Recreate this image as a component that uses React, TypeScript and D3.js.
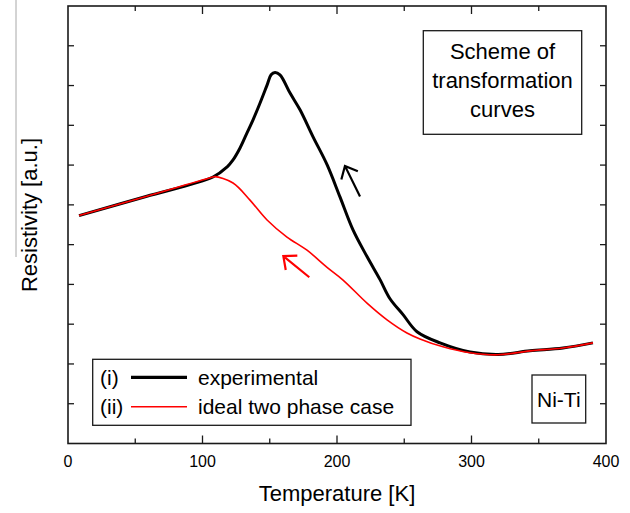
import React, { useEffect, useRef } from "react";
import * as d3 from "d3";

// experimental curve (i)
const expTemp = [8.2, 58.0, 107.8, 118.2, 122.7, 127.9, 133.1, 137.5, 142.8, 148.0, 151.0, 153.9, 157.6, 165.1, 172.5, 182.2, 192.6, 202.2, 211.9, 222.3, 232.0, 239.4, 249.1, 259.5, 276.6, 298.9, 319.7, 343.5, 368.0, 390.3];
const expRes = [5.73, 6.21, 6.7, 6.95, 7.13, 7.43, 7.81, 8.13, 8.56, 9.01, 9.27, 9.33, 9.27, 8.81, 8.39, 7.71, 7.01, 6.2, 5.37, 4.7, 4.12, 3.64, 3.24, 2.81, 2.53, 2.3, 2.24, 2.33, 2.4, 2.53];

// ideal two phase case (ii)
const idealTemp = [8.2, 58.0, 107.8, 109.3, 122.7, 135.3, 148.0, 162.8, 177.7, 192.6, 204.5, 222.3, 237.2, 252.0, 261.7, 278.8, 298.9, 319.7, 343.5, 368.0, 390.3];
const idealRes = [5.73, 6.21, 6.7, 6.71, 6.55, 6.12, 5.62, 5.19, 4.86, 4.43, 4.11, 3.53, 3.11, 2.78, 2.63, 2.43, 2.28, 2.23, 2.33, 2.4, 2.53];

const xMajorTicks = [0, 100, 200, 300, 400];
const xMinorTicks = [50, 150, 250, 350];
const yTicks = d3.range(0, 12);

const legendLabels = ["(i)", "(ii)"];
const legendNames = ["experimental", "ideal two phase case"];
const schemeLines = ["Scheme of", "transformation", "curves"];

// arrows: [tailT, tailR, tipT, tipR]
const blackArrow = [217.1, 6.21, 205.9, 6.98];
const redArrow = [179.4, 4.18, 160.1, 4.71];

const FONT = "'Liberation Sans', Arial, sans-serif";

const App = () => {
  const svgRef = useRef(null);
  const width = 630;
  const height = 513;
  const margin = { top: 6, right: 24, bottom: 69.5, left: 68 };

  useEffect(() => {
    const svgEl = d3.select(svgRef.current);
    svgEl.selectAll("*").remove();

    const innerW = width - margin.left - margin.right;
    const innerH = height - margin.top - margin.bottom;

    const x = d3.scaleLinear().domain([0, 400]).range([margin.left, margin.left + innerW]);
    const y = d3.scaleLinear().domain([0, 11]).range([margin.top + innerH, margin.top]);

    // stray grey rule at the far left of the original scan
    svgEl.append("line")
      .attr("x1", 16).attr("x2", 16).attr("y1", 0).attr("y2", 257)
      .attr("stroke", "#a8a8a8").attr("stroke-width", 1);

    // frame
    svgEl.append("rect")
      .attr("x", margin.left).attr("y", margin.top)
      .attr("width", innerW).attr("height", innerH)
      .attr("fill", "none").attr("stroke", "#1a1a1a").attr("stroke-width", 1.6);

    const ticks = svgEl.append("g").attr("stroke", "#1a1a1a").attr("stroke-width", 1.3);
    const yBottom = margin.top + innerH;

    // x ticks, inward on bottom and top
    xMajorTicks.concat(xMinorTicks).forEach((t) => {
      const len = xMajorTicks.includes(t) ? 8 : 5;
      if (t === 0 || t === 400) return;
      ticks.append("line").attr("x1", x(t)).attr("x2", x(t)).attr("y1", yBottom).attr("y2", yBottom - len);
      ticks.append("line").attr("x1", x(t)).attr("x2", x(t)).attr("y1", margin.top).attr("y2", margin.top + len);
    });

    // y ticks, no labels
    yTicks.slice(1, -1).forEach((v) => {
      ticks.append("line").attr("x1", margin.left).attr("x2", margin.left + 6).attr("y1", y(v)).attr("y2", y(v));
      ticks.append("line").attr("x1", margin.left + innerW).attr("x2", margin.left + innerW - 6).attr("y1", y(v)).attr("y2", y(v));
    });

    // x tick labels
    svgEl.selectAll(".xlab")
      .data(xMajorTicks)
      .enter()
      .append("text")
      .attr("x", (d) => x(d))
      .attr("y", 467)
      .attr("text-anchor", "middle")
      .style("font-family", FONT)
      .style("font-size", "16px")
      .text((d) => d);

    // axis titles
    svgEl.append("text")
      .attr("x", x(200)).attr("y", 501)
      .attr("text-anchor", "middle")
      .style("font-family", FONT).style("font-size", "22px")
      .text("Temperature [K]");

    svgEl.append("text")
      .attr("transform", "translate(37,215) rotate(-90)")
      .attr("text-anchor", "middle")
      .style("font-family", FONT).style("font-size", "22px")
      .text("Resistivity [a.u.]");

    // curves
    const line = d3.line()
      .x((d) => x(d[0]))
      .y((d) => y(d[1]))
      .curve(d3.curveCatmullRom.alpha(0.5));

    const expData = expTemp.map((t, i) => [t, expRes[i]]);
    const idealData = idealTemp.map((t, i) => [t, idealRes[i]]);

    svgEl.append("path")
      .datum(expData)
      .attr("fill", "none")
      .attr("stroke", "#000")
      .attr("stroke-width", 3)
      .attr("stroke-linejoin", "round")
      .attr("d", line);

    svgEl.append("path")
      .datum(idealData)
      .attr("fill", "none")
      .attr("stroke", "#ff0000")
      .attr("stroke-width", 1.6)
      .attr("stroke-linejoin", "round")
      .attr("d", line);

    // direction arrows
    const drawArrow = (a, color) => {
      const x0 = x(a[0]), y0 = y(a[1]), x1 = x(a[2]), y1 = y(a[3]);
      const ang = Math.atan2(y0 - y1, x0 - x1);
      const L = 14;
      const spread = (41 * Math.PI) / 180;
      const p = d3.path();
      p.moveTo(x0, y0);
      p.lineTo(x1, y1);
      p.moveTo(x1 + L * Math.cos(ang - spread), y1 + L * Math.sin(ang - spread));
      p.lineTo(x1, y1);
      p.lineTo(x1 + L * Math.cos(ang + spread), y1 + L * Math.sin(ang + spread));
      svgEl.append("path")
        .attr("d", p.toString())
        .attr("fill", "none")
        .attr("stroke", color)
        .attr("stroke-width", 2.2)
        .attr("stroke-linejoin", "miter");
    };
    drawArrow(blackArrow, "#000");
    drawArrow(redArrow, "#ff0000");

    // legend
    svgEl.append("rect")
      .attr("x", 92.7).attr("y", 359.3).attr("width", 318.3).attr("height", 66)
      .attr("fill", "#fff").attr("stroke", "#1a1a1a").attr("stroke-width", 1.3);

    const legendColors = ["#000", "#ff0000"];
    const legendWidths = [3.2, 1.6];
    legendLabels.forEach((lab, i) => {
      const cy = 377.3 + i * 29.4;
      svgEl.append("text")
        .attr("x", 100).attr("y", cy + 7.5)
        .style("font-family", FONT).style("font-size", "21px")
        .text(lab);
      svgEl.append("line")
        .attr("x1", 131).attr("x2", 187).attr("y1", cy).attr("y2", cy)
        .attr("stroke", legendColors[i]).attr("stroke-width", legendWidths[i]);
      svgEl.append("text")
        .attr("x", 198).attr("y", cy + 7.5)
        .style("font-family", FONT).style("font-size", "21px")
        .text(legendNames[i]);
    });

    // scheme box
    svgEl.append("rect")
      .attr("x", 423.3).attr("y", 30.7).attr("width", 158.4).attr("height", 103.6)
      .attr("fill", "#fff").attr("stroke", "#1a1a1a").attr("stroke-width", 1.3);
    schemeLines.forEach((s, i) => {
      svgEl.append("text")
        .attr("x", 502.5).attr("y", 59 + i * 29)
        .attr("text-anchor", "middle")
        .style("font-family", FONT).style("font-size", "22px")
        .text(s);
    });

    // alloy box
    svgEl.append("rect")
      .attr("x", 532).attr("y", 375).attr("width", 53.7).attr("height", 48)
      .attr("fill", "#fff").attr("stroke", "#1a1a1a").attr("stroke-width", 1.3);
    svgEl.append("text")
      .attr("x", 558.8).attr("y", 407)
      .attr("text-anchor", "middle")
      .style("font-family", FONT).style("font-size", "21px")
      .text("Ni-Ti");
  }, []);

  return (
    <svg
      ref={svgRef}
      width={width}
      height={height}
      style={{ position: "absolute", left: 0, top: 0, background: "#fff" }}
    />
  );
};

export default App;
